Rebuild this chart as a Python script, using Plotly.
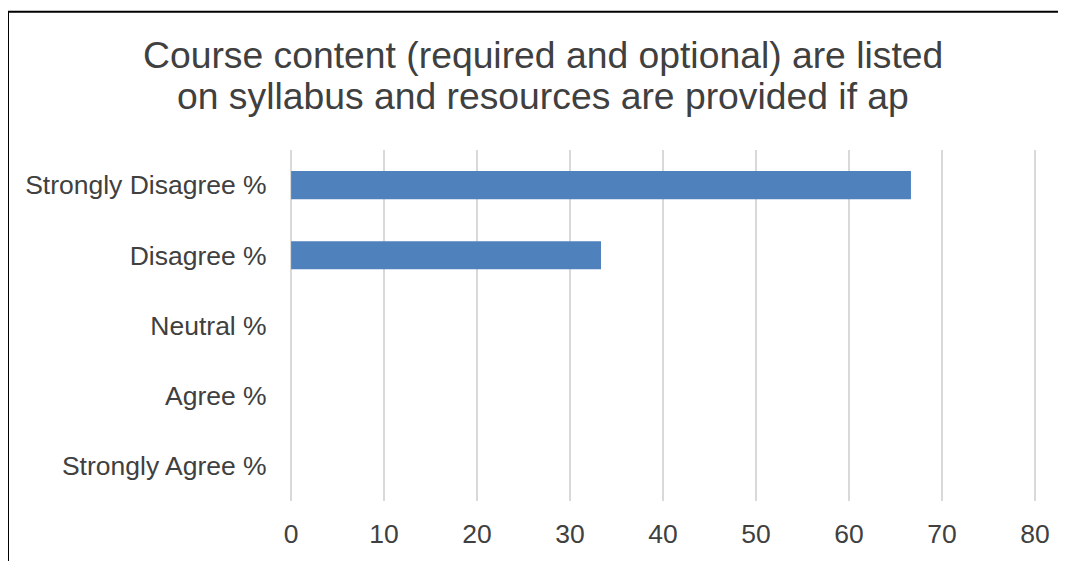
import plotly.graph_objects as go

categories = ["Strongly Disagree %", "Disagree %", "Neutral %", "Agree %", "Strongly Agree %"]
values = [66.67, 33.33, 0, 0, 0]
x_ticks = [0, 10, 20, 30, 40, 50, 60, 70, 80]
title_lines = ["Course content (required and optional) are listed",
               "on syllabus and resources are provided if ap"]

OFF = 8  # default page body margin
SW, SH = 1066, 561
W, H = SW - OFF, SH - OFF
# plot area in screen pixels
PX0, PX1, PY0, PY1 = 290, 1036, 150, 503
L, R, T, B = PX0 - OFF, SW - PX1, PY0 - OFF, SH - PY1
pw, ph = PX1 - PX0, PY1 - PY0

def px_x(x):
    return (x - PX0) / pw

def px_y(y):
    return (PY1 - y) / ph

fig = go.Figure(go.Bar(
    y=categories, x=values, orientation="h",
    marker=dict(color="#4F81BD", line=dict(width=0)),
    width=0.4,
))

fig.update_layout(
    width=W, height=H,
    margin=dict(l=L, r=R, t=T, b=B),
    plot_bgcolor="white", paper_bgcolor="white",
    showlegend=False,
    font=dict(family="Liberation Sans, Arial, sans-serif", color="#404040"),
    xaxis=dict(range=[-0.12, 80.12], tickvals=x_ticks, showgrid=True, gridcolor="#d9d9d9",
               gridwidth=1.5, zeroline=False, showline=False,
               tickfont=dict(size=26.5, color="#404040"),
               ticks="outside", ticklen=9, tickcolor="rgba(0,0,0,0)"),
    yaxis=dict(categoryorder="array", categoryarray=categories, autorange="reversed",
               showgrid=False, zeroline=False, showline=False,
               tickfont=dict(size=26.5, color="#404040"),
               ticks="outside", ticklen=17, tickcolor="rgba(0,0,0,0)"),
    shapes=[dict(type="rect", xref="paper", yref="paper",
                 x0=px_x(8), x1=px_x(1090), y0=px_y(600), y1=px_y(11),
                 line=dict(color="#000000", width=2), fillcolor="rgba(0,0,0,0)",
                 layer="above")],
    annotations=[
        dict(text=title_lines[0], xref="paper", yref="paper", x=px_x(543), y=px_y(54),
             xanchor="center", yanchor="middle", showarrow=False,
             font=dict(size=37.3, color="#404040")),
        dict(text=title_lines[1], xref="paper", yref="paper", x=px_x(543), y=px_y(96),
             xanchor="center", yanchor="middle", showarrow=False,
             font=dict(size=37.3, color="#404040")),
    ],
)

fig.write_html("out.html")
